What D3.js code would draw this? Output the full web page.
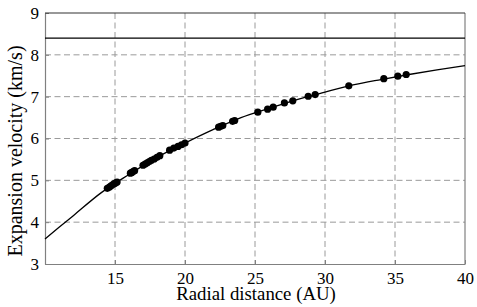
<!DOCTYPE html>
<html>
<head>
<meta charset="utf-8">
<script src="https://cdn.jsdelivr.net/npm/d3@7"></script>
<style>
  body { margin: 0; background: #fff; }
  svg text { font-family: "Liberation Serif", "Times New Roman", serif; }
</style>
</head>
<body>
<div id="chart"></div>
<script>
// Values
const xTicks = [15, 20, 25, 30, 35, 40];
const yTicks = [3, 4, 5, 6, 7, 8, 9];
const terminalVelocity = 8.4;

// fitted curve
const curveR = [10, 12, 14, 16, 18, 20, 22, 24, 26, 28, 30, 32, 34, 36, 38, 40];
const curveV = [3.60, 4.15, 4.70, 5.14, 5.55, 5.89, 6.21, 6.50, 6.72, 6.93, 7.11, 7.28, 7.41, 7.53, 7.64, 7.74];

// observed points
const obsR = [14.45, 14.6, 14.72, 14.85, 14.95, 15.05, 15.15,
    16.1, 16.2, 16.3, 16.4,
    17.0, 17.15, 17.3, 17.45, 17.6, 17.8, 18.0, 18.2,
    18.9, 19.2, 19.5, 19.75, 20.0,
    22.4, 22.55, 22.7, 23.4, 23.55,
    25.2, 25.9, 26.3, 27.1, 27.7, 28.8, 29.3, 31.7, 34.2, 35.2, 35.8];
const obsV = [4.81, 4.84, 4.87, 4.90, 4.92, 4.94, 4.96,
    5.17, 5.19, 5.21, 5.23,
    5.36, 5.39, 5.42, 5.45, 5.48, 5.51, 5.55, 5.59,
    5.72, 5.77, 5.81, 5.85, 5.89,
    6.27, 6.29, 6.31, 6.41, 6.43,
    6.63, 6.70, 6.75, 6.85, 6.90, 7.01, 7.05, 7.26, 7.43, 7.49, 7.53];

const W = 477, H = 307;
const margin = { top: 13, right: 12, bottom: 43, left: 45 };
const width = W - margin.left - margin.right;
const height = H - margin.top - margin.bottom;

const svg = d3.select('#chart').append('svg')
    .attr('width', W)
    .attr('height', H);
const g = svg.append('g')
    .attr('transform', 'translate(' + margin.left + ',' + margin.top + ')');

const x = d3.scaleLinear().domain([10, 40]).range([0, width]);
const y = d3.scaleLinear().domain([3, 9]).range([height, 0]);

// grid
g.append('g').selectAll('line')
    .data(xTicks.filter(d => d < 40))
    .enter().append('line')
    .attr('x1', d => x(d)).attr('x2', d => x(d))
    .attr('y1', 0).attr('y2', height)
    .attr('stroke', '#9a9a9a')
    .attr('stroke-dasharray', '6,3.5');
g.append('g').selectAll('line')
    .data(yTicks.filter(d => d > 3 && d < 9))
    .enter().append('line')
    .attr('x1', 0).attr('x2', width)
    .attr('y1', d => y(d)).attr('y2', d => y(d))
    .attr('stroke', '#9a9a9a')
    .attr('stroke-dasharray', '6,3.5');

// axes
const xAxis = g.append('g')
    .attr('transform', 'translate(0,' + height + ')')
    .call(d3.axisBottom(x).tickValues(xTicks).tickFormat(d3.format('d'))
        .tickSizeInner(-4).tickSizeOuter(0).tickPadding(8));
const yAxis = g.append('g')
    .call(d3.axisLeft(y).tickValues(yTicks).tickFormat(d3.format('d'))
        .tickSizeInner(-4).tickSizeOuter(0).tickPadding(6));
[xAxis, yAxis].forEach(a => {
    a.attr('font-family', '"Liberation Serif", serif').attr('font-size', 17);
    a.select('.domain').attr('stroke', '#808080').attr('stroke-width', 1.2);
    a.selectAll('.tick line').attr('stroke', '#808080');
    a.selectAll('.tick text')
        .attr('fill', '#000')
        .style('font-family', '"Liberation Serif", serif');
});

// right and top frame
g.append('line')
    .attr('x1', width).attr('x2', width)
    .attr('y1', 0).attr('y2', height)
    .attr('stroke', '#808080').attr('stroke-width', 1.2);
g.append('line')
    .attr('x1', 0).attr('x2', width)
    .attr('y1', 0).attr('y2', 0)
    .attr('stroke', '#333').attr('stroke-width', 1.2);

// terminal velocity line
g.append('line')
    .attr('x1', 0).attr('x2', width)
    .attr('y1', y(terminalVelocity)).attr('y2', y(terminalVelocity))
    .attr('stroke', '#000').attr('stroke-width', 1.4);

// fitted curve
const line = d3.line()
    .x(d => x(d[0]))
    .y(d => y(d[1]))
    .curve(d3.curveMonotoneX);
g.append('path')
    .datum(curveR.map((r, i) => [r, curveV[i]]))
    .attr('fill', 'none')
    .attr('stroke', '#000')
    .attr('stroke-width', 1.3)
    .attr('d', line);

// observations
g.append('g').selectAll('circle')
    .data(obsR.map((r, i) => [r, obsV[i]]))
    .enter().append('circle')
    .attr('cx', d => x(d[0]))
    .attr('cy', d => y(d[1]))
    .attr('r', 3.6)
    .attr('fill', '#000');

// axis labels
svg.append('text')
    .attr('x', 256)
    .attr('y', 300)
    .attr('text-anchor', 'middle')
    .style('font-size', '18.8px')
    .text('Radial distance (AU)');
svg.append('text')
    .attr('transform', 'translate(22,151) rotate(-90)')
    .attr('text-anchor', 'middle')
    .style('font-size', '20px')
    .text('Expansion velocity (km/s)');
</script>
</body>
</html>
